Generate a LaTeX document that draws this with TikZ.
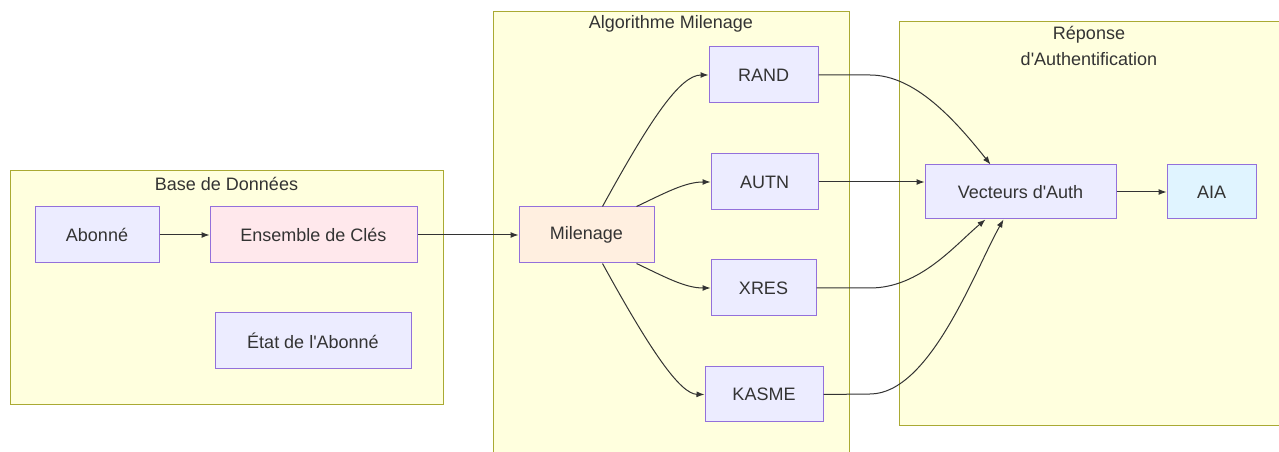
\documentclass[tikz,border=0pt]{standalone}
\usepackage{fontspec}
\setmainfont{Liberation Sans}
\usepackage{tikz}
\usetikzlibrary{arrows.meta,calc}
\definecolor{clfill}{HTML}{FFFFDE}
\definecolor{cldraw}{HTML}{AAAA33}
\definecolor{nfill}{HTML}{ECECFF}
\definecolor{ndraw}{HTML}{9370DB}
\definecolor{pfill}{HTML}{FFE8EC}
\definecolor{ofill}{HTML}{FFEFE0}
\definecolor{bfill}{HTML}{E0F4FF}
\definecolor{ink}{HTML}{333333}
\tikzset{
  >={Latex[length=6pt,width=4.5pt]},
  box/.style={draw=ndraw,fill=nfill,line width=0.75pt,text=ink,inner sep=0pt,font=\fontsize{13.5}{16}\selectfont},
  pbox/.style={box,fill=pfill},
  obox/.style={box,fill=ofill},
  bbox/.style={box,fill=bfill},
  sz/.style 2 args={minimum width=#1*0.75pt,minimum height=#2*0.75pt},
  clu/.style={draw=cldraw,fill=clfill,line width=0.75pt},
  lab/.style={text=ink,align=center,font=\fontsize{13.5}{20}\selectfont},
  arr/.style={->,draw=ink,line width=0.75pt},
}
\newcommand\apos{\textquotesingle}
\begin{document}
\begin{tikzpicture}[x=0.75pt,y=-0.75pt]
\useasboundingbox (0,0) rectangle (1279,452);
% clusters
\draw[clu] (10,171) rectangle (443,405);
\draw[clu] (493,12) rectangle (849,460);
\draw[clu] (899,22) rectangle (1290,426);
\node[lab] (tdb) at (226.5,184) {Base de Données};
\node[lab] (tmil) at (671,24) {Algorithme Milenage};
\node[lab] (trep) at (1089,46) {Réponse\\d\apos Authentification};
% base de donnees
\node[box,sz={124}{56}] (abo) at (97,235) {Abonné};
\node[pbox,sz={207}{56}] (cles) at (313.5,235) {Ensemble de Clés};
\node[box,sz={196}{56}] (etat) at (313,341) {État de l\apos Abonné};
% milenage
\node[obox,sz={135}{56}] (mil) at (586.5,235) {Milenage};
\node[box,sz={109}{56}] (rand) at (763.5,75) {RAND};
\node[box,sz={107}{56}] (autn) at (764.5,182) {AUTN};
\node[box,sz={105}{56}] (xres) at (763.5,288) {XRES};
\node[box,sz={118}{55}] (kasme) at (764,394.5) {KASME};
% reponse
\node[box,sz={191}{54}] (vec) at (1020.5,192) {Vecteurs d\apos Auth};
\node[bbox,sz={89}{54}] (aia) at (1211.5,192) {AIA};
% edges
\draw[arr] (abo) -- (cles);
\draw[arr] (cles) -- (mil);
\draw[arr] ($(mil.north)+(16,0)$) .. controls (650,120) and (680,75) .. (rand.west);
\draw[arr] ($(mil.north)+(50,0)$) .. controls (665,193) and (685,182) .. (autn.west);
\draw[arr] ($(mil.south)+(50,0)$) .. controls (665,277) and (685,288) .. (xres.west);
\draw[arr] ($(mil.south)+(16,0)$) .. controls (650,350) and (680,394) .. (kasme.west);
\draw[arr] (rand.east) -- (870,75) .. controls (915,75) and (955,120) .. ($(vec.north)+(-30,0)$);
\draw[arr] (autn.east) -- (autn.east -| vec.west);
\draw[arr] (xres.east) -- (870,288) .. controls (920,288) and (955,245) .. ($(vec.south)+(-35,0)$);
\draw[arr] (kasme.east) -- (870,394) .. controls (930,394) and (975,270) .. ($(vec.south)+(-17,0)$);
\draw[arr] (vec) -- (aia);
\end{tikzpicture}
\end{document}
